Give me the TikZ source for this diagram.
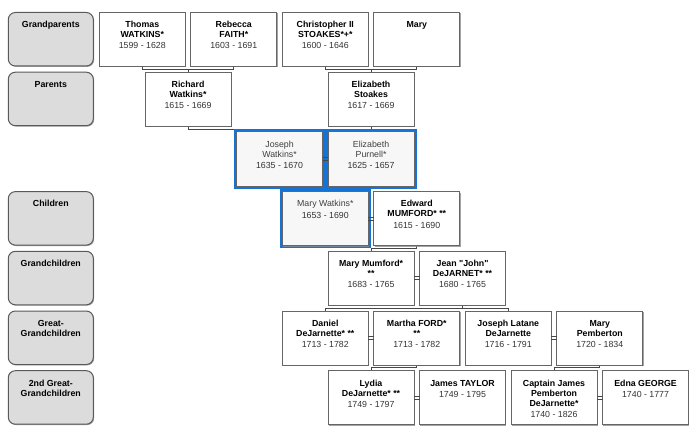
\documentclass[tikz,border=0pt]{standalone}
\usepackage{fontspec}
\setmainfont{Liberation Sans}[Ligatures=TeXOff]
\usetikzlibrary{shadows,backgrounds}
\definecolor{boxline}{HTML}{666666}
\definecolor{connc}{HTML}{474747}
\definecolor{catfill}{HTML}{DCDCDC}
\definecolor{catline}{HTML}{5A5A5A}
\definecolor{hlblue}{HTML}{1473D6}
\definecolor{hlfill}{HTML}{F7F7F7}
\definecolor{txtdate}{HTML}{333333}
\definecolor{txthl}{HTML}{404040}
\newcommand{\nm}[1]{\textbf{#1}}
\newcommand{\hn}[1]{{\color{txthl}#1}}
\newcommand{\dt}[1]{{\color{txtdate}#1}}
\newcommand{\pbody}[1]{\parbox[c][54pt][t]{86pt}{\centering\fontsize{8.8}{10}\selectfont\rule{0pt}{15.3pt}#1}}
\newcommand{\cbody}[1]{\parbox[c][53.5pt][t]{85pt}{\centering\fontsize{8.8}{10.5}\selectfont\bfseries\rule{0pt}{15.3pt}#1}}
\tikzset{
  pbox/.style={draw=boxline, fill=white, line width=0.8pt, inner sep=0pt, outer sep=0pt, anchor=north west,
    drop shadow={shadow xshift=0.9pt, shadow yshift=-0.9pt, fill=black!45, opacity=0.8}},
  hlbox/.style={fill=hlfill},
  catbox/.style={draw=catline, fill=catfill, line width=1pt, rounded corners=7pt, inner sep=0pt, outer sep=0pt, anchor=north west,
    drop shadow={shadow xshift=0.9pt, shadow yshift=-0.9pt, fill=black!45, opacity=0.8}},
  connline/.style={draw=connc, line width=1pt},
  hlframe/.style={draw=hlblue, line width=2.5pt},
  couple/.style={draw=connc, line width=0.9pt}
}
\begin{document}
\begin{tikzpicture}[x=1pt,y=-1pt]
\useasboundingbox (0,0) rectangle (693,433);
% category boxes
\node[catbox] (c1) at (8.3,12.5) {\cbody{Grandparents}};
\node[catbox] (c2) at (8.3,72.2) {\cbody{Parents}};
\node[catbox] (c4) at (8.3,191.6) {\cbody{Children}};
\node[catbox] (c5) at (8.3,251.3) {\cbody{Grandchildren}};
\node[catbox] (c6) at (8.3,311.0) {\cbody{Great-\\Grandchildren}};
\node[catbox] (c7) at (8.3,370.7) {\cbody{2nd Great-\\Grandchildren}};
% row 1
\node[pbox] (thomas) at (99.3,12.5) {\pbody{\nm{Thomas}\\\nm{WATKINS*}\\[1.2pt]\dt{1599 - 1628}}};
\node[pbox] (rebecca) at (190.8,12.5) {\pbody{\nm{Rebecca}\\\nm{FAITH*}\\[1.2pt]\dt{1603 - 1691}}};
\node[pbox] (christopher) at (282.3,12.5) {\pbody{\nm{Christopher II}\\\nm{STOAKES*+*}\\[1.2pt]\dt{1600 - 1646}}};
\node[pbox] (mary) at (373.8,12.5) {\pbody{\nm{Mary}}};
% row 2
\node[pbox] (richard) at (145.05,72.2) {\pbody{\nm{Richard}\\\nm{Watkins*}\\[1.2pt]\dt{1615 - 1669}}};
\node[pbox] (stoakes) at (328.05,72.2) {\pbody{\nm{Elizabeth}\\\nm{Stoakes}\\[1.2pt]\dt{1617 - 1669}}};
% row 3
\node[pbox,hlbox] (joseph) at (236.55,131.9) {\pbody{\hn{Joseph}\\\hn{Watkins*}\\[1.2pt]\dt{1635 - 1670}}};
\node[pbox,hlbox] (purnell) at (328.05,131.9) {\pbody{\hn{Elizabeth}\\\hn{Purnell*}\\[1.2pt]\dt{1625 - 1657}}};
% row 4
\node[pbox,hlbox] (marywatkins) at (282.3,191.6) {\pbody{\hn{Mary Watkins*}\\[1.2pt]\dt{1653 - 1690}}};
\node[pbox] (edward) at (373.8,191.6) {\pbody{\nm{Edward}\\\nm{MUMFORD* **}\\[1.2pt]\dt{1615 - 1690}}};
% row 5
\node[pbox] (mumford) at (328.05,251.3) {\pbody{\nm{Mary Mumford*}\\\nm{**}\\[1.2pt]\dt{1683 - 1765}}};
\node[pbox] (jean) at (419.55,251.3) {\pbody{\nm{Jean "John"}\\\nm{DeJARNET* **}\\[1.2pt]\dt{1680 - 1765}}};
% row 6
\node[pbox] (daniel) at (282.3,311.0) {\pbody{\nm{Daniel}\\\nm{DeJarnette* **}\\[1.2pt]\dt{1713 - 1782}}};
\node[pbox] (martha) at (373.8,311.0) {\pbody{\nm{Martha FORD*}\\\nm{**}\\[1.2pt]\dt{1713 - 1782}}};
\node[pbox] (latane) at (465.3,311.0) {\pbody{\nm{Joseph Latane}\\\nm{DeJarnette}\\[1.2pt]\dt{1716 - 1791}}};
\node[pbox] (pemberton) at (556.8,311.0) {\pbody{\nm{Mary}\\\nm{Pemberton}\\[1.2pt]\dt{1720 - 1834}}};
% row 7
\node[pbox] (lydia) at (328.05,370.7) {\pbody{\nm{Lydia}\\\nm{DeJarnette* **}\\[1.2pt]\dt{1749 - 1797}}};
\node[pbox] (taylor) at (419.55,370.7) {\pbody{\nm{James TAYLOR}\\[1.2pt]\dt{1749 - 1795}}};
\node[pbox] (captain) at (511.05,370.7) {\pbody{\nm{Captain James}\\\nm{Pemberton}\\\nm{DeJarnette*}\\[1.6pt]\dt{1740 - 1826}}};
\node[pbox] (edna) at (602.55,370.7) {\pbody{\nm{Edna GEORGE}\\[1.2pt]\dt{1740 - 1777}}};
% bracket levels
\coordinate (b1) at (0,69.35);
\coordinate (b2) at (0,129.05);
\coordinate (b3) at (0,188.75);
\coordinate (b4) at (0,248.45);
\coordinate (b5) at (0,308.15);
\coordinate (b6) at (0,367.85);
\begin{scope}[on background layer]
  \fill[white] (0,0) rectangle (693,433);
  \draw[connline] (thomas.south) |- (b1 -| rebecca.south) -- (rebecca.south);
  \draw[connline] (richard.north) -- (richard.north |- b1);
  \draw[connline] (christopher.south) |- (b1 -| mary.south) -- (mary.south);
  \draw[connline] (stoakes.north) -- (stoakes.north |- b1);
  \draw[connline] (richard.south) |- (b2 -| stoakes.south) -- (stoakes.south);
  \draw[connline] (joseph.north) -- (joseph.north |- b2);
  \draw[connline] (purnell.south) |- (b3 -| marywatkins.north) -- (marywatkins.north);
  \draw[connline] (edward.south) |- (b4 -| mumford.north) -- (mumford.north);
  \draw[connline] (jean.south) -- (jean.south |- b5);
  \draw[connline] (daniel.north) |- (b5 -| latane.north) -- (latane.north);
  \draw[connline] (martha.south) |- (b6 -| lydia.north) -- (lydia.north);
  \draw[connline] (pemberton.south) |- (b6 -| captain.north) -- (captain.north);
  \foreach \n in {joseph,purnell,marywatkins}{
    \draw[hlframe] ([shift={(-1.5pt,1.5pt)}]\n.north west) rectangle ([shift={(1.5pt,-1.5pt)}]\n.south east);
  }
\end{scope}
% couple marks
\foreach \a/\b in {joseph/purnell, marywatkins/edward, mumford/jean, daniel/martha, latane/pemberton, lydia/taylor, captain/edna}{
  \draw[couple] ([yshift=1.6pt]\a.east) -- ([yshift=1.6pt]\b.west);
  \draw[couple] ([yshift=-1.6pt]\a.east) -- ([yshift=-1.6pt]\b.west);
}
\end{tikzpicture}
\end{document}
